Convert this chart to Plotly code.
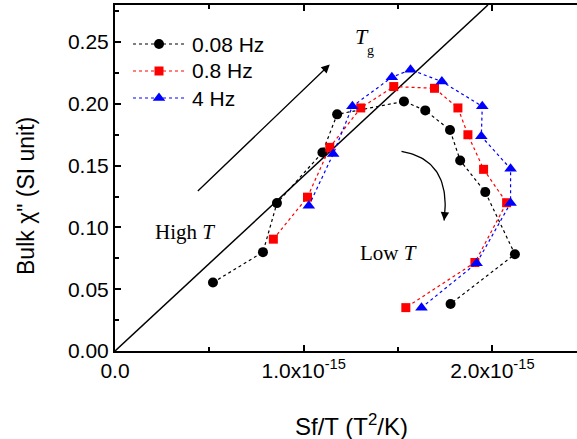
import plotly.graph_objects as go

# ---- data ----
SERIES_NAMES = ["0.08 Hz", "0.8 Hz", "4 Hz"]

X_008HZ = [0.519e-15, 0.784e-15, 0.858e-15, 1.099e-15, 1.177e-15, 1.531e-15,
           1.644e-15, 1.775e-15, 1.829e-15, 1.962e-15, 2.119e-15, 1.778e-15]
Y_008HZ = [0.0554, 0.080, 0.1197, 0.1607, 0.1915, 0.202,
           0.1947, 0.1788, 0.1542, 0.1286, 0.0783, 0.0381]

X_08HZ = [0.839e-15, 1.020e-15, 1.138e-15, 1.302e-15, 1.477e-15, 1.693e-15,
          1.817e-15, 1.870e-15, 1.953e-15, 2.075e-15, 1.907e-15, 1.541e-15]
Y_08HZ = [0.0905, 0.1245, 0.1648, 0.1967, 0.214, 0.2126,
          0.1967, 0.175, 0.147, 0.120, 0.0716, 0.0351]

X_4HZ = [1.027e-15, 1.156e-15, 1.258e-15, 1.467e-15, 1.566e-15, 1.732e-15,
         1.946e-15, 1.941e-15, 2.096e-15, 2.096e-15, 1.916e-15, 1.624e-15]
Y_4HZ = [0.1175, 0.1594, 0.198, 0.2215, 0.2277, 0.218,
         0.198, 0.1737, 0.1475, 0.1197, 0.0711, 0.0351]

LINE_SLOPE = 0.1417e15          # guide line chi'' = k * Sf/T
X_TICKS = [0.0, 1.0e-15, 2.0e-15]
X_TICK_TEXT = ["0.0", "1.0x10<sup>-15</sup>", "2.0x10<sup>-15</sup>"]
X_MINOR = [0.5e-15, 1.5e-15]
X_RANGE = [0, 2.448e-15]
Y_RANGE = [0, 0.28]

# ---- figure ----
W, H = 577, 439
ML, MR, MT, MB = 115, 0, 5, 88
PW, PH = W - ML - MR, H - MT - MB


def px2paper(px, py):
    return (px - ML) / PW, (H - MB - py) / PH


fig = go.Figure()

# guide line through origin
y_top = Y_RANGE[1]
fig.add_trace(go.Scatter(x=[0, y_top / LINE_SLOPE], y=[0, y_top], mode="lines",
                         line=dict(color="black", width=1.5),
                         showlegend=False, hoverinfo="skip"))

styles = [
    dict(color="black", symbol="circle", size=10),
    dict(color="#ff0000", symbol="square", size=9),
    dict(color="#0000ff", symbol="triangle-up", size=11),
]
for name, xs, ys, st in zip(SERIES_NAMES, [X_008HZ, X_08HZ, X_4HZ],
                            [Y_008HZ, Y_08HZ, Y_4HZ], styles):
    fig.add_trace(go.Scatter(
        x=xs, y=ys, name=name, mode="lines+markers", showlegend=False,
        line=dict(color=st["color"], width=1.2, dash="dot"),
        marker=dict(color=st["color"], symbol=st["symbol"], size=st["size"],
                    line=dict(width=0)),
    ))

# curved arrow (quadratic bezier) in data coordinates
P0 = (1.518e-15, 0.1615)
C = (1.785e-15, 0.1547)
P2 = (1.744e-15, 0.1056)
n = 40
bx, by = [], []
for i in range(n + 1):
    t = i / n
    bx.append((1 - t) ** 2 * P0[0] + 2 * (1 - t) * t * C[0] + t ** 2 * P2[0])
    by.append((1 - t) ** 2 * P0[1] + 2 * (1 - t) * t * C[1] + t ** 2 * P2[1])
fig.add_trace(go.Scatter(x=bx, y=by, mode="lines", line=dict(color="black", width=1.3),
                         showlegend=False, hoverinfo="skip"))

annotations = []
shapes = []
# curved arrow head
annotations.append(dict(x=P2[0], y=P2[1], ax=bx[-4], ay=by[-4], xref="x", yref="y",
                        axref="x", ayref="y", showarrow=True, arrowhead=2,
                        arrowsize=1.3, arrowwidth=1.3, arrowcolor="black", text=""))
# straight arrow
annotations.append(dict(x=1.138e-15, y=0.2318, ax=0.431e-15, ay=0.1283, xref="x", yref="y",
                        axref="x", ayref="y", showarrow=True, arrowhead=2,
                        arrowsize=1.3, arrowwidth=1.3, arrowcolor="black", text=""))

serif = "Liberation Serif"
sans = "Liberation Sans"


def txt(text, px, py, size, family=serif, xanchor="center"):
    x, y = px2paper(px, py)
    annotations.append(dict(text=text, x=x, y=y, xref="paper", yref="paper",
                            showarrow=False, xanchor=xanchor, yanchor="middle",
                            font=dict(family=family, size=size, color="black")))


txt("<i>T</i>", 362, 37, 22)
txt("g", 370, 51, 14)
txt("High <i>T</i>", 185, 232, 21)
txt("Low <i>T</i>", 388, 253, 21)
txt("Sf/T (T<sup>2</sup>/K)", 351, 425, 24, sans)
x_t, y_t = px2paper(26, 196)
annotations.append(dict(text='Bulk χ" (SI unit)', x=x_t, y=y_t, xref="paper", yref="paper",
                        showarrow=False, textangle=-90, xanchor="center", yanchor="middle",
                        font=dict(family=sans, size=23, color="black")))

# custom legend (sample line 52 px long with marker in the middle)
LEG_ROWS_PX = [44, 71, 98]
for name, st, row in zip(SERIES_NAMES, styles, LEG_ROWS_PX):
    x0, yy = px2paper(133, row)
    x1, _ = px2paper(185, row)
    xc, _ = px2paper(159, row)
    shapes.append(dict(type="line", xref="paper", yref="paper", x0=x0, x1=x1, y0=yy, y1=yy,
                       line=dict(color=st["color"], width=1.2, dash="dot")))
    common = dict(xref="paper", yref="paper", xsizemode="pixel", ysizemode="pixel",
                  xanchor=xc, yanchor=yy, fillcolor=st["color"], line=dict(width=0))
    if st["symbol"] == "circle":
        shapes.append(dict(type="circle", x0=-5, x1=5, y0=-5, y1=5, **common))
    elif st["symbol"] == "square":
        shapes.append(dict(type="rect", x0=-4.5, x1=4.5, y0=-4.5, y1=4.5, **common))
    else:
        shapes.append(dict(type="path", path="M-6.3,-2.75 L6.3,-2.75 L0,5.5 Z", **common))
    txt(name, 190, row, 21, sans, xanchor="left")

fig.update_layout(
    width=W, height=H,
    margin=dict(l=ML, r=MR, t=MT, b=MB),
    paper_bgcolor="white", plot_bgcolor="white",
    font=dict(family=sans, size=21, color="black"),
    showlegend=False,
    annotations=annotations,
    shapes=shapes,
)
fig.update_xaxes(range=X_RANGE, tickmode="array", tickvals=X_TICKS, ticktext=X_TICK_TEXT,
                 ticks="inside", ticklen=6, tickwidth=1.5, tickcolor="black",
                 showline=True, linewidth=2, linecolor="black", mirror="ticks",
                 showgrid=False, zeroline=False,
                 tickfont=dict(family=sans, size=21),
                 minor=dict(tickmode="array", tickvals=X_MINOR, ticks="inside",
                            ticklen=4, tickwidth=1.5, tickcolor="black"))
fig.update_yaxes(range=Y_RANGE, tick0=0, dtick=0.05, tickformat=".2f",
                 ticks="inside", ticklen=6, tickwidth=1.5, tickcolor="black",
                 showline=True, linewidth=2, linecolor="black",
                 showgrid=False, zeroline=False,
                 tickfont=dict(family=sans, size=21),
                 minor=dict(dtick=0.025, ticks="inside", ticklen=4, tickwidth=1.5,
                            tickcolor="black"))

fig.write_html("out.html", config={"displayModeBar": False},
               post_script="document.body.style.margin='0';document.body.style.overflow='hidden';")
